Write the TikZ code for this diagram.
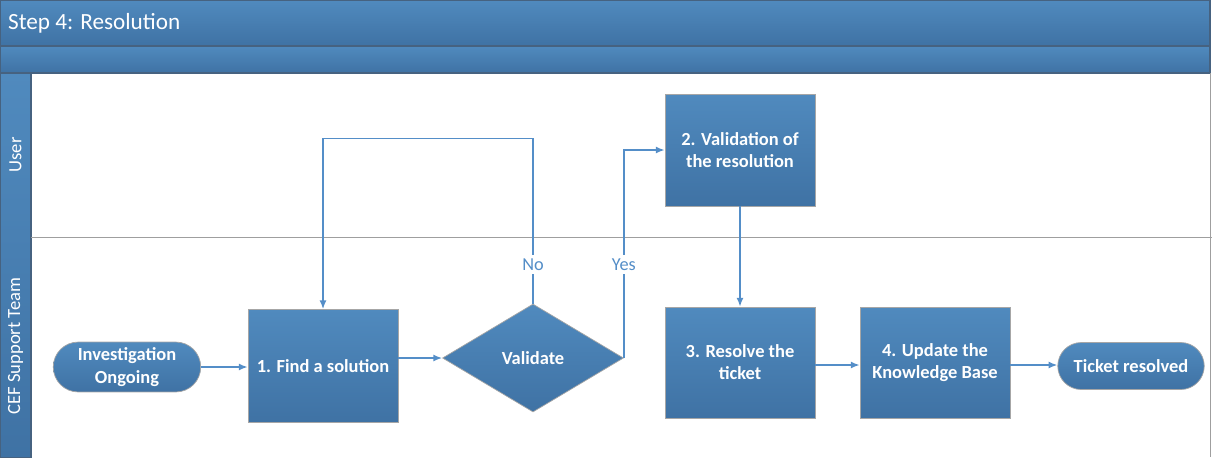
\documentclass[tikz,border=0pt]{standalone}
\usepackage{fontspec}
\setmainfont{Carlito}
\usepackage{tikz}
\usetikzlibrary{calc, positioning, arrows.meta, shapes.geometric, shapes.misc}
\definecolor{azul1}{RGB}{80,138,190}
\definecolor{azul2}{RGB}{63,114,164}
\definecolor{linea}{RGB}{84,142,200}
\definecolor{borde}{RGB}{70,98,128}

\begin{document}
\begin{tikzpicture}[
  x=1cm, y=1cm,
  banda/.style={draw=borde, line width=0.6pt, top color=azul1, bottom color=azul2},
  paso/.style={
    rectangle, draw=gray!70, line width=0.4pt,
    top color=azul1, bottom color=azul2,
    minimum width=3.0cm, minimum height=2.22cm,
    align=center, text=white, font=\fontsize{10.5}{12.6}\selectfont\bfseries
  },
  terminal/.style={paso, rounded rectangle, rounded rectangle arc length=180,
    inner xsep=1pt, minimum height=0.94cm},
  rombo/.style={paso, diamond, aspect=1.68, minimum width=3.62cm, minimum height=2.16cm, inner sep=0pt},
  flecha/.style={-{Latex[length=5pt, width=4pt]}, linea, line width=0.9pt},
  lbl/.style={font=\fontsize{10.4}{12}\selectfont, text=linea, fill=white, inner sep=2pt},
  carril/.style={font=\fontsize{10.6}{12}\selectfont, text=white, rotate=90},
  sep/.style={gray!75, line width=0.5pt}
]
\useasboundingbox (0,0) rectangle (24.24,-9.14);

%% ---------------------------------------------------------
%% Marco: cabecera y carriles
%% ---------------------------------------------------------
\path[banda] (0,0) rectangle (24.2,-0.92);
\path[banda] (0,-0.92) rectangle (24.2,-1.46);
\node[anchor=west, text=white, font=\fontsize{13.2}{15}\selectfont] (TIT) at (0.04,-0.47) {Step 4: Resolution};

\path[banda] (0,-1.46) rectangle (0.62,-9.16);
\draw[sep] (0.62,-4.74) -- (24.24,-4.74);
\draw[sep] (24.2,-1.46) -- (24.2,-9.14);

\node[carril] (USR) at (0.31,-3.1) {User};
\node[carril] (CEF) at (0.31,-6.92) {CEF Support Team};

%% ---------------------------------------------------------
%% Nodos
%% ---------------------------------------------------------
\node[terminal, minimum width=3.02cm] (INV)  at (2.54,-7.34)  {Investigation\\Ongoing};
\node[paso, minimum height=2.26cm]   (FIND) at (6.46,-7.32)  {1. Find a solution};
\node[rombo]                         (VAL)  at (10.66,-7.16) {Validate};
\node[paso, minimum height=2.24cm]   (VALR) at (14.8,-3.0)   {2. Validation of\\the resolution};
\node[paso]                          (RES)  at (14.8,-7.25)  {3. Resolve the\\ticket};
\node[paso]                          (UPD)  at (18.7,-7.25)  {4. Update the\\Knowledge Base};
\node[terminal]                      (TKT)  at (22.62,-7.32) {Ticket resolved};

%% ---------------------------------------------------------
%% Conectores
%% ---------------------------------------------------------
\draw[flecha] (INV.east) -- (INV.east -| FIND.west);
\draw[flecha] (FIND.east |- VAL.west) -- (VAL.west);

% rama No: vuelve a buscar solucion
\draw[flecha] (VAL.north) -- ++(0,3.3)
  node[lbl, pos=0.236] {No}
  -| (FIND.north);

% rama Yes: validacion del usuario
\draw[flecha] (VAL.east) |- (VALR.west)
  node[lbl, pos=0.224] {Yes};

\draw[flecha] (VALR.south) -- (RES.north);
\draw[flecha] (RES.east |- 0,-7.3) -- (UPD.west |- 0,-7.3);
\draw[flecha] (UPD.east |- 0,-7.3) -- (TKT.west |- 0,-7.3);

\end{tikzpicture}
\end{document}
